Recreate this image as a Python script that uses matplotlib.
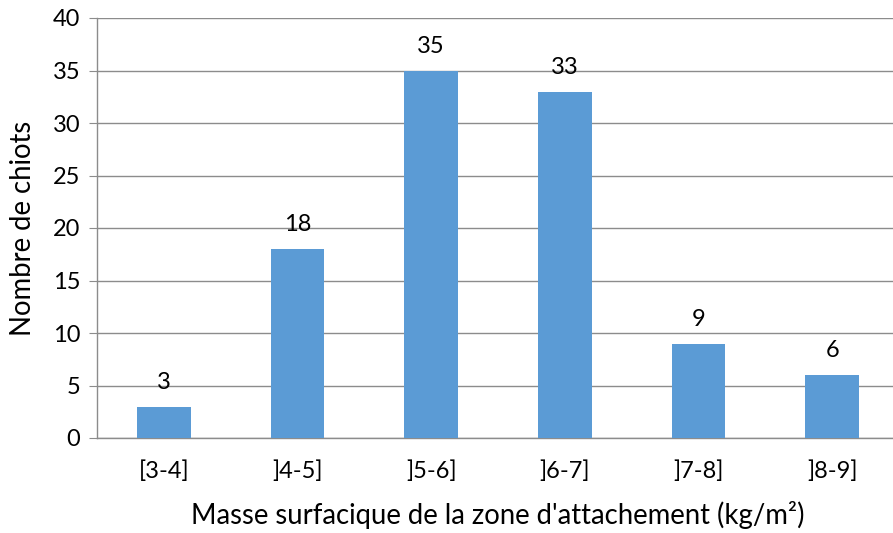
import matplotlib
matplotlib.use("Agg")
import matplotlib.pyplot as plt

categories = ["[3-4]", "]4-5]", "]5-6]", "]6-7]", "]7-8]", "]8-9]"]
values = [3, 18, 35, 33, 9, 6]
yticks = [0, 5, 10, 15, 20, 25, 30, 35, 40]

plt.rcParams['font.family'] = ['Lato', 'DejaVu Sans']

fig = plt.figure(figsize=(8.93, 5.33), dpi=100)
ax = fig.add_axes([97/893, (533-438)/533, 802/893, 420/533])

x = list(range(len(categories)))
bars = ax.bar(x, values, width=0.4, color="#5B9BD5", zorder=3)
for xi, v in zip(x, values):
    ax.text(xi, v + 1.3, str(v), ha="center", va="bottom", fontsize=17, color="black")

ax.set_xlim(-0.5, len(categories) - 0.5)
ax.set_ylim(0, 40)
ax.set_yticks(yticks)
ax.set_xticks(x)
ax.set_xticklabels(categories)
ax.yaxis.grid(True, color="#8c8c8c", linewidth=1.0, zorder=0)
ax.tick_params(axis="y", length=6, color="#8c8c8c", labelsize=17, pad=6)
ax.tick_params(axis="x", length=0, labelsize=17, pad=16)
for s in ["top", "right"]:
    ax.spines[s].set_visible(False)
for s in ["left", "bottom"]:
    ax.spines[s].set_color("#8c8c8c")
    ax.spines[s].set_linewidth(1.0)
ax.set_xlabel("Masse surfacique de la zone d'attachement (kg/m²)", fontsize=19.8, labelpad=14)
ax.set_ylabel("Nombre de chiots", fontsize=19.8, labelpad=12)

fig.savefig("out.png", dpi=100)
